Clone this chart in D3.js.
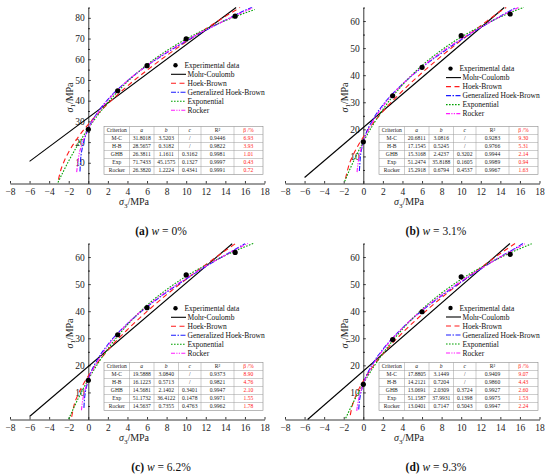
<!DOCTYPE html>
<html>
<head>
<meta charset="utf-8">
<script src="https://cdn.jsdelivr.net/npm/d3@7"></script>
<style>
  body { margin: 0; background: #fff; }
  svg text { font-family: "Liberation Serif", "Times New Roman", serif; }
</style>
</head>
<body>
<svg id="chart" width="550" height="474"></svg>
<script>
// ---- data ----
const xTicks = [-8, -6, -4, -2, 0, 2, 4, 6, 8, 10, 12, 14, 16, 18];
const testSigma3 = [0, 3, 6, 10, 15];

// experimental sigma1 values (MPa)
const testA = [26.2, 44.8, 56.9, 69.8, 80.8];
const testB = [15.4, 32.4, 42.9, 54.6, 62.6];
const testC = [14.5, 31.3, 41.3, 53.4, 61.7];
const testD = [13.0, 29.5, 39.8, 52.7, 61.0];

// fitted curves, [sigma3, sigma1] points
const mcA = [[-6, 10.7], [15.1, 85]];
const hbA = [[-3.05, 1.9], [-2.9, 5.0], [-2.5, 10.4], [-2, 15.2], [-1, 22.6], [0, 28.6], [2, 38.5], [4, 47.1], [6, 54.7], [8, 61.8], [10, 68.4], [12, 74.7], [14, 80.7], [15.5, 85]];
const ghbA = [[-0.85, 5.8], [-0.8, 10.6], [-0.6, 17.5], [-0.3, 22.7], [0, 26.4], [1, 34.7], [2, 40.6], [4, 49.6], [6, 56.9], [8, 63.1], [10, 68.8], [12, 74.0], [14, 78.9], [16, 83.6], [16.7, 85]];
const expA = [[-3.1, 0.5], [-2.5, 6.3], [-2, 10.9], [-1, 19.2], [0, 26.6], [2, 39.1], [4, 49.2], [6, 57.4], [8, 64.1], [10, 69.8], [12, 74.6], [14, 78.7], [16, 82.3], [17, 84.0]];
const rockerA = [[-1.19, 5.5], [-1, 12.6], [-0.7, 18.2], [-0.4, 22.2], [0, 26.4], [1, 34.2], [2, 40.2], [4, 49.6], [6, 57.0], [8, 63.4], [10, 69.1], [12, 74.2], [14, 78.8], [16, 83.2], [16.8, 84.8]];

const mcB = [[-6, 2.2], [14.4, 65]];
const hbB = [[-1.82, 1.8], [-1.5, 6.4], [-1, 10.8], [-0.5, 14.2], [0, 17.2], [2, 26.6], [4, 34.2], [6, 40.9], [8, 47.1], [10, 52.9], [12, 58.3], [14, 63.6], [14.6, 65]];
const ghbB = [[-0.4, 4.6], [-0.3, 9.8], [-0.15, 13.1], [0, 15.3], [1, 23.7], [2, 29.0], [4, 36.7], [6, 42.9], [8, 48.2], [10, 53.1], [12, 57.6], [14, 61.8], [15.5, 64.8]];
const expB = [[-1.9, 0.8], [-1.5, 4.2], [-1, 8.2], [-0.5, 11.9], [0, 15.4], [2, 27.3], [4, 36.4], [6, 43.6], [8, 49.3], [10, 54.1], [12, 58.0], [14, 61.5], [16, 64.5], [16.4, 65]];
const rockerB = [[-0.64, 4.2], [-0.55, 7.2], [-0.4, 10.2], [-0.2, 13.1], [0, 15.3], [1, 23.1], [2, 28.5], [4, 36.7], [6, 43.1], [8, 48.6], [10, 53.4], [12, 57.7], [14, 61.7], [15.9, 65.1]];

const mcC = [[-6, 1.1], [14.7, 64.9]];
const hbC = [[-1.7, 1.0], [-1.5, 4.6], [-1, 9.6], [-0.5, 13.1], [0, 16.1], [2, 25.6], [4, 33.2], [6, 39.9], [8, 46.1], [10, 51.8], [12, 57.2], [14, 62.4], [15.05, 65]];
const ghbC = [[-0.45, 4.3], [-0.4, 7.1], [-0.3, 10.0], [-0.15, 12.6], [0, 14.6], [1, 22.5], [2, 27.7], [4, 35.4], [6, 41.6], [8, 47.0], [10, 51.9], [12, 56.5], [14, 60.8], [16, 64.9]];
const expC = [[-2, 0.2], [-1.5, 4.2], [-1, 8.0], [-0.5, 11.5], [0, 14.8], [2, 26.1], [4, 35.0], [6, 42.2], [8, 48.0], [10, 52.9], [12, 57.0], [14, 60.6], [16, 63.8], [16.85, 65]];
const rockerC = [[-0.7, 3.4], [-0.6, 6.5], [-0.45, 9.3], [-0.25, 12.0], [0, 14.6], [1, 21.9], [2, 27.2], [4, 35.4], [6, 41.8], [8, 47.3], [10, 52.2], [12, 56.7], [14, 60.7], [16, 64.5], [16.3, 65]];

const mcD = [[-5.69, 0], [14.98, 65]];
const hbD = [[-1.33, 1.6], [-1.2, 4.0], [-0.9, 7.5], [-0.5, 10.9], [0, 14.2], [2, 24.2], [4, 32.0], [6, 38.8], [8, 45.0], [10, 50.7], [12, 56.1], [14, 61.3], [15.5, 65]];
const ghbD = [[-0.47, 3.7], [-0.42, 6.0], [-0.3, 8.9], [-0.15, 11.3], [0, 13.1], [1, 20.8], [2, 25.9], [4, 33.8], [6, 40.2], [8, 45.7], [10, 50.8], [12, 55.6], [14, 60.1], [16, 64.3], [16.3, 65]];
const expD = [[-1.8, 0.5], [-1.5, 2.8], [-1, 6.5], [-0.5, 9.9], [0, 13.2], [2, 24.4], [4, 33.4], [6, 40.7], [8, 46.7], [10, 51.8], [12, 56.1], [14, 59.8], [16, 63.1], [17.2, 64.9]];
const rockerD = [[-0.67, 3.2], [-0.6, 5.2], [-0.45, 7.9], [-0.25, 10.5], [0, 13.0], [1, 20.3], [2, 25.6], [4, 33.8], [6, 40.4], [8, 46.0], [10, 51.1], [12, 55.7], [14, 60.0], [16, 63.9], [16.5, 64.9]];

// fitting parameter tables
const tableHeader = ["Criterion", "a", "b", "c", "R\u00b2", "\u03b2 /%"];
const tableA = [
  ["M-C", "31.8018", "3.5203", "/", "0.9446", "6.93"],
  ["H-B", "28.5657", "0.3182", "/", "0.9822", "3.93"],
  ["GHB", "26.3811", "1.1611", "0.3162", "0.9981", "1.01"],
  ["Exp", "71.7433", "45.1575", "0.1327", "0.9997", "0.43"],
  ["Rocker", "26.3820", "1.2224", "0.4341", "0.9991", "0.72"]
];
const tableB = [
  ["M-C", "20.6811", "3.0816", "/", "0.9283", "9.30"],
  ["H-B", "17.1545", "0.5245", "/", "0.9766", "5.31"],
  ["GHB", "15.3168", "2.4237", "0.3202", "0.9944", "2.14"],
  ["Exp", "51.2474", "35.8188", "0.1605", "0.9989", "0.94"],
  ["Rocker", "15.2918", "0.6794", "0.4537", "0.9967", "1.63"]
];
const tableC = [
  ["M-C", "19.5888", "3.0840", "/", "0.9373", "8.90"],
  ["H-B", "16.1223", "0.5713", "/", "0.9821", "4.76"],
  ["GHB", "14.5681", "2.1402", "0.3401", "0.9947", "2.10"],
  ["Exp", "51.1732", "36.4122", "0.1478", "0.9971", "1.55"],
  ["Rocker", "14.5637", "0.7355", "0.4763", "0.9962", "1.78"]
];
const tableD = [
  ["M-C", "17.8805", "3.1449", "/", "0.9409", "9.07"],
  ["H-B", "14.2121", "0.7204", "/", "0.9860", "4.43"],
  ["GHB", "13.0691", "2.0309", "0.3724", "0.9927", "2.60"],
  ["Exp", "51.1587", "37.9931", "0.1398", "0.9975", "1.53"],
  ["Rocker", "13.0401", "0.7147", "0.5043", "0.9947", "2.24"]
];

const legendNames = ["Experimental data", "Mohr-Coulomb", "Hoek-Brown", "Generalized Hoek-Brown", "Exponential", "Rocker"];
const captions = [["(a)", "0%"], ["(b)", "3.1%"], ["(c)", "6.2%"], ["(d)", "9.3%"]];

// ---- layout & style ----
const series = [
  { key: "mc", color: "#000000", dash: null },
  { key: "hb", color: "#ff1a1a", dash: "5,3.5" },
  { key: "ghb", color: "#1a1aff", dash: "5,1.5,1.5,1.5" },
  { key: "exp", color: "#00a000", dash: "1.6,1.4" },
  { key: "rocker", color: "#ff1aff", dash: "4,1.3,1.2,1.3,1.2,1.3" }
];

const panels = [
  { ox: 0, oy: 0, yMax: 85, test: testA, mc: mcA, hb: hbA, ghb: ghbA, exp: expA, rocker: rockerA, table: tableA, legendY: 65.3, cap: captions[0] },
  { ox: 275, oy: 0, yMax: 65, test: testB, mc: mcB, hb: hbB, ghb: ghbB, exp: expB, rocker: rockerB, table: tableB, legendY: 68.6, cap: captions[1] },
  { ox: 0, oy: 236, yMax: 65, test: testC, mc: mcC, hb: hbC, ghb: ghbC, exp: expC, rocker: rockerC, table: tableC, legendY: 72.3, cap: captions[2] },
  { ox: 275, oy: 236, yMax: 65, test: testD, mc: mcD, hb: hbD, ghb: ghbD, exp: expD, rocker: rockerD, table: tableD, legendY: 72, cap: captions[3] }
];

const svg = d3.select("#chart");
const tableCols = [104, 129.5, 154, 178.5, 201, 234, 263];
const tableTop = 126.5, rowH = 8;

function drawPanel(p) {
  const g = svg.append("g").attr("transform", `translate(${p.ox},${p.oy})`);

  const x = d3.scaleLinear().domain([-8, 18]).range([10, 264.5]);
  const y = d3.scaleLinear().domain([0, p.yMax]).range([183.5, 7.5]);

  // x axis along sigma1 = 0
  const xAxis = g.append("g")
    .attr("transform", `translate(0,${y(0)})`)
    .call(d3.axisBottom(x).tickValues(xTicks).tickSizeInner(-2.5).tickSizeOuter(0).tickPadding(5)
      .tickFormat(d => d < 0 ? "\u2212" + Math.abs(d) : d));

  // y axis along sigma3 = 0
  const yAxis = g.append("g")
    .attr("transform", `translate(${x(0)},0)`)
    .call(d3.axisLeft(y).tickValues(d3.range(10, p.yMax, 10)).tickSizeInner(-2.5).tickSizeOuter(0).tickPadding(3.5));
  g.append("g")
    .attr("transform", `translate(${x(0)},0)`)
    .call(d3.axisLeft(y).tickValues(d3.range(5, p.yMax + 0.1, 10)).tickSizeInner(-1.5).tickSizeOuter(0).tickFormat(""))
    .select(".domain").remove();

  [xAxis, yAxis].forEach(a => {
    a.selectAll("text").attr("font-size", "9.5px").attr("fill", "#222")
      .style("font-family", '"Liberation Serif", serif');
    a.selectAll("line, path").attr("stroke", "#222").attr("stroke-width", 0.9);
  });

  // axis titles
  const xt = g.append("text").attr("x", 134).attr("y", 205).attr("text-anchor", "middle")
    .attr("font-size", "10px").attr("fill", "#222");
  xt.append("tspan").attr("font-style", "italic").text("\u03c3");
  xt.append("tspan").attr("font-size", "7px").attr("dy", 2.5).text("3");
  xt.append("tspan").attr("dy", -2.5).text("/MPa");

  const yt = g.append("text").attr("transform", "translate(72.5,97.5) rotate(-90)").attr("text-anchor", "middle")
    .attr("font-size", "10px").attr("fill", "#222");
  yt.append("tspan").attr("font-style", "italic").text("\u03c3");
  yt.append("tspan").attr("font-size", "7px").attr("dy", 2.5).text("1");
  yt.append("tspan").attr("dy", -2.5).text("/MPa");

  // fitting curves
  const line = d3.line().x(d => x(d[0])).y(d => y(d[1])).curve(d3.curveMonotoneX);
  series.forEach(s => {
    g.append("path")
      .attr("d", line(p[s.key]))
      .attr("fill", "none")
      .attr("stroke", s.color)
      .attr("stroke-width", 1.1)
      .attr("stroke-dasharray", s.dash);
  });

  // experimental points
  g.selectAll("circle.pt")
    .data(testSigma3.map((s3, i) => [s3, p.test[i]]))
    .enter()
    .append("circle")
    .attr("class", "pt")
    .attr("cx", d => x(d[0]))
    .attr("cy", d => y(d[1]))
    .attr("r", 2.6)
    .attr("fill", "#000");

  // legend
  const lg = g.append("g").attr("font-size", "7.5px").attr("fill", "#111");
  legendNames.forEach((name, i) => {
    const ly = p.legendY + i * 9;
    if (i === 0) {
      lg.append("circle").attr("cx", 175.5).attr("cy", ly).attr("r", 2.2).attr("fill", "#000");
      lg.append("text").attr("x", 184.5).attr("y", ly + 2.6).text(name);
    } else {
      const s = series[i - 1];
      lg.append("line").attr("x1", 171).attr("x2", 186).attr("y1", ly).attr("y2", ly)
        .attr("stroke", s.color).attr("stroke-width", 1.1).attr("stroke-dasharray", s.dash);
      lg.append("text").attr("x", 187.5).attr("y", ly + 2.6).text(name);
    }
  });

  // parameter table
  const tb = g.append("g");
  const rows = [tableHeader].concat(p.table);
  const tBottom = tableTop + rows.length * rowH;
  tb.append("rect").attr("x", tableCols[0]).attr("y", tableTop)
    .attr("width", tableCols[6] - tableCols[0]).attr("height", tBottom - tableTop)
    .attr("fill", "#fff").attr("stroke", "#8a8a8a").attr("stroke-width", 0.6);
  d3.range(1, rows.length).forEach(r => {
    tb.append("line").attr("x1", tableCols[0]).attr("x2", tableCols[6])
      .attr("y1", tableTop + r * rowH).attr("y2", tableTop + r * rowH)
      .attr("stroke", "#9a9a9a").attr("stroke-width", 0.5);
  });
  tableCols.slice(1, 6).forEach(cx => {
    tb.append("line").attr("x1", cx).attr("x2", cx).attr("y1", tableTop).attr("y2", tBottom)
      .attr("stroke", "#9a9a9a").attr("stroke-width", 0.5);
  });
  rows.forEach((row, r) => {
    row.forEach((cell, c) => {
      tb.append("text")
        .attr("x", (tableCols[c] + tableCols[c + 1]) / 2)
        .attr("y", tableTop + r * rowH + 5.7)
        .attr("text-anchor", "middle")
        .attr("font-size", "5.6px")
        .attr("font-style", r === 0 && c >= 1 && c <= 3 ? "italic" : null)
        .attr("fill", c === 5 ? "#ff2020" : "#222")
        .text(cell);
    });
  });

  // caption
  const cap = g.append("text").attr("x", 161).attr("y", 234.5).attr("text-anchor", "middle")
    .attr("font-size", "11.5px").attr("fill", "#111");
  cap.append("tspan").attr("font-weight", "bold").text(p.cap[0] + " ");
  cap.append("tspan").attr("font-style", "italic").text("w");
  cap.append("tspan").text(" = " + p.cap[1]);
}

panels.forEach(drawPanel);
</script>
</body>
</html>
